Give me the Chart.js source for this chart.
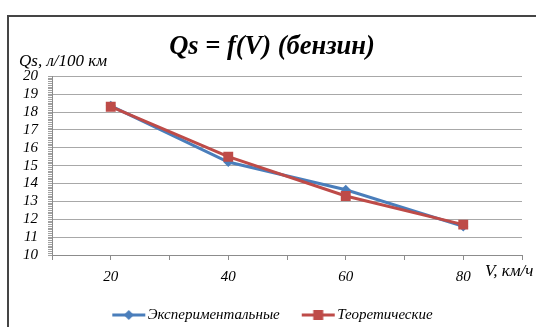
<!DOCTYPE html>
<html>
<head>
<meta charset="utf-8">
<script src="https://cdn.jsdelivr.net/npm/chart.js@4.4.1/dist/chart.umd.min.js"></script>
<style>
    html, body { margin: 0; padding: 0; background: #fff; overflow: hidden; }
    #wrap { position: relative; width: 536px; height: 327px; }
    #frame { position: absolute; left: 7px; top: 15px; width: 600px; height: 400px;
             border: 2px solid #454545; pointer-events: none; }
</style>
</head>
<body>
<div id="wrap">
    <canvas id="graph" width="536" height="327"></canvas>
    <div id="frame"></div>
</div>
<script>
// Скорость, км/ч
var speeds = [20, 40, 60, 80];
// Расход топлива, л/100 км
var experimental = [18.35, 15.2, 13.65, 11.6];
var theoretical = [18.3, 15.5, 13.3, 11.7];
// Подписи оси X
var xTickLabels = [20, 40, 60, 80];

var serif = '"Liberation Serif", "Times New Roman", serif';
var blue = '#4a7ebb';
var red = '#be4b48';

// ширина места под значок в легенде
var iconBox = 29;

function toPoints(values) {
    return speeds.map(function(v, i) { return {x: v, y: values[i]}; });
}

// Значок легенды: линия с маркером посередине, прижата к тексту справа
function legendIcon(color, style) {
    var c = document.createElement('canvas');
    c.width = iconBox + 12;
    c.height = 12;
    var g = c.getContext('2d');
    var x0 = c.width - 34, x1 = c.width - 1, mid = (x0 + x1) / 2;
    g.strokeStyle = color;
    g.fillStyle = color;
    g.lineWidth = 3;
    g.beginPath();
    g.moveTo(x0, 6);
    g.lineTo(x1, 6);
    g.stroke();
    g.beginPath();
    if (style === 'rect') {
        g.rect(mid - 5, 1, 10, 10);
    } else {
        g.moveTo(mid, 1); g.lineTo(mid + 5, 6); g.lineTo(mid, 11); g.lineTo(mid - 5, 6);
        g.closePath();
    }
    g.fill();
    return c;
}

function isWhole(v) {
    return Math.abs(v - Math.round(v)) < 1e-6;
}

// Подписи осей
var axisTitles = {
    id: 'axisTitles',
    afterDraw: function(chart) {
        var ctx = chart.ctx;
        var area = chart.chartArea;
        ctx.save();
        ctx.fillStyle = '#000';
        ctx.textBaseline = 'middle';
        ctx.textAlign = 'left';
        ctx.font = 'italic 17px ' + serif;
        ctx.fillText('Qs, л/100 км', 19, area.top - 15);
        ctx.fillText('V, км/ч', area.right - 37, area.bottom + 17);
        ctx.restore();
    }
};

var ctx = document.getElementById('graph').getContext('2d');
var chart = new Chart(ctx, {
    type: 'line',
    data: {
        datasets: [{
            label: 'Экспериментальные',
            data: toPoints(experimental),
            borderColor: blue,
            backgroundColor: blue,
            borderWidth: 3,
            pointStyle: 'rectRot',
            pointRadius: 5,
            pointBorderWidth: 0,
            order: 2
        }, {
            label: 'Теоретические',
            data: toPoints(theoretical),
            borderColor: red,
            backgroundColor: red,
            borderWidth: 3,
            pointStyle: 'rect',
            pointRadius: 7,
            pointBorderWidth: 0,
            order: 1
        }]
    },
    options: {
        responsive: false,
        animation: false,
        layout: {
            padding: {left: 22, right: 14, top: 0, bottom: -5.5}
        },
        plugins: {
            title: {
                display: true,
                text: 'Qs = f(V) (бензин)',
                color: '#000',
                font: {family: serif, size: 26.5, style: 'italic', weight: 'bold'},
                padding: {top: 31.5, bottom: 13}
            },
            legend: {
                position: 'bottom',
                labels: {
                    usePointStyle: true,
                    pointStyleWidth: iconBox,
                    boxHeight: 12,
                    padding: 21,
                    color: '#000',
                    font: {family: serif, size: 15, style: 'italic'},
                    sort: function(a, b) { return a.datasetIndex - b.datasetIndex; },
                    generateLabels: function(chart) {
                        return chart.data.datasets.map(function(ds, i) {
                            return {
                                text: ds.label,
                                pointStyle: legendIcon(ds.borderColor, ds.pointStyle),
                                fillStyle: ds.borderColor,
                                strokeStyle: ds.borderColor,
                                lineWidth: 0,
                                fontColor: '#000',
                                hidden: false,
                                datasetIndex: i
                            };
                        });
                    }
                }
            },
            tooltip: {enabled: false}
        },
        scales: {
            x: {
                type: 'linear',
                min: 10,
                max: 90,
                afterFit: function(scale) { scale.height = 31.5; },
                border: {color: '#8c8c8c', width: 1},
                grid: {drawOnChartArea: false, tickLength: 5, tickColor: '#8c8c8c'},
                ticks: {
                    stepSize: 10,
                    padding: 8,
                    color: '#000',
                    font: {family: serif, size: 15, style: 'italic'},
                    callback: function(v) { return xTickLabels.indexOf(v) >= 0 ? String(v) : ''; }
                }
            },
            y: {
                min: 10,
                max: 20,
                afterFit: function(scale) { scale.width = 30; },
                border: {color: '#8c8c8c', width: 1},
                grid: {
                    tickLength: 4,
                    tickColor: '#a0a0a0',
                    color: function(c) {
                        return c.tick && isWhole(c.tick.value) ? '#a8a8a8' : 'rgba(0,0,0,0)';
                    }
                },
                ticks: {
                    stepSize: 0.1,
                    autoSkip: false,
                    padding: 10,
                    color: '#000',
                    font: {family: serif, size: 15, style: 'italic'},
                    callback: function(v) { return isWhole(v) ? String(Math.round(v)) : ''; }
                }
            }
        }
    },
    plugins: [axisTitles]
});
</script>
</body>
</html>
